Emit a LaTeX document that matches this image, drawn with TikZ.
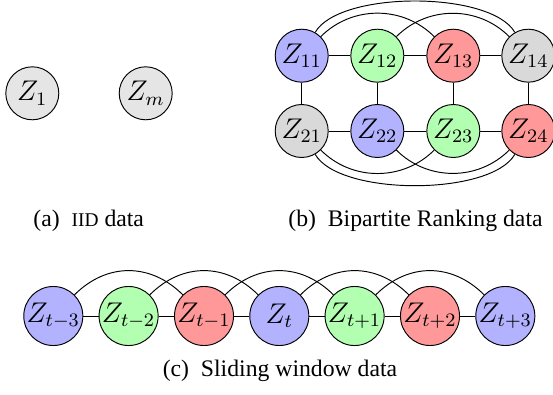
\documentclass[tikz,border=0pt]{standalone}
\usepackage{fontspec}
\setmainfont{Liberation Serif}
\begin{document}
\begin{tikzpicture}[x=0.4217pt,y=0.4217pt,
  vtx/.style={circle,draw,inner sep=0pt,minimum size=22.35pt,font=\fontsize{12}{14}\selectfont},
  svtx/.style={circle,draw,inner sep=0pt,minimum size=24.9pt,font=\fontsize{12}{14}\selectfont},
  cblue/.style={fill=blue!30},
  cgreen/.style={fill=green!30},
  cred/.style={fill=red!40},
  cgray/.style={fill=gray!30},
  clight/.style={fill=gray!20},
  edge/.style={draw=black,line width=0.4pt},
  caption/.style={anchor=base,inner sep=0pt}
]
\useasboundingbox (0,0) rectangle (553,-394);

% (a)
\node[vtx,clight] (z1) at (32.3,-93.3) {$Z_1$};
\node[vtx,clight] (zm) at (145.7,-93.3) {$Z_m$};

% (b)
\node[vtx,cblue]  (z11) at (301.7,-55.7) {$Z_{11}$};
\node[vtx,cgreen] (z12) at (377.3,-55.7) {$Z_{12}$};
\node[vtx,cred]   (z13) at (453.3,-55.7) {$Z_{13}$};
\node[vtx,cgray]  (z14) at (528.3,-55.7) {$Z_{14}$};
\node[vtx,cgray]  (z21) at (301.7,-131)  {$Z_{21}$};
\node[vtx,cblue]  (z22) at (377.3,-131)  {$Z_{22}$};
\node[vtx,cgreen] (z23) at (453.3,-131)  {$Z_{23}$};
\node[vtx,cred]   (z24) at (528.3,-131)  {$Z_{24}$};

\draw[edge] (z11) -- (z12) -- (z13) -- (z14);
\draw[edge] (z21) -- (z22) -- (z23) -- (z24);
\draw[edge] (z11) -- (z21);
\draw[edge] (z12) -- (z22);
\draw[edge] (z13) -- (z23);
\draw[edge] (z14) -- (z24);
\draw[edge] (z11) to[out=60,in=120,looseness=0.62] (z14);
\draw[edge] (z11) to[out=45,in=135] (z13);
\draw[edge] (z12) to[out=45,in=135] (z14);
\draw[edge] (z21) to[out=-60,in=-120,looseness=0.62] (z24);
\draw[edge] (z21) to[out=-45,in=-135] (z23);
\draw[edge] (z22) to[out=-45,in=-135] (z24);

% (c)
\node[svtx,cblue]  (tm3) at (53.3,-316)  {$Z_{t-3}$};
\node[svtx,cgreen] (tm2) at (128.6,-316) {$Z_{t-2}$};
\node[svtx,cred]   (tm1) at (204,-316)   {$Z_{t-1}$};
\node[svtx,cblue]  (t0)  at (279.3,-316) {$Z_{t}$};
\node[svtx,cgreen] (tp1) at (354.6,-316) {$Z_{t+1}$};
\node[svtx,cred]   (tp2) at (430,-316)   {$Z_{t+2}$};
\node[svtx,cblue]  (tp3) at (505.3,-316) {$Z_{t+3}$};

\draw[edge] (tm3) -- (tm2) -- (tm1) -- (t0) -- (tp1) -- (tp2) -- (tp3);
\draw[edge] (tm3) to[out=45,in=135,looseness=1.08] (tm1);
\draw[edge] (tm2) to[out=45,in=135,looseness=1.08] (t0);
\draw[edge] (tm1) to[out=45,in=135,looseness=1.08] (tp1);
\draw[edge] (t0)  to[out=45,in=135,looseness=1.08] (tp2);
\draw[edge] (tp1) to[out=45,in=135,looseness=1.08] (tp3);

% captions
\node[caption] (capa) at (88.7,-226) {(a)\enspace{\fontsize{8.2}{9}\selectfont IID} data};
\node[caption] (capb) at (415.5,-226) {(b)\enspace Bipartite Ranking data};
\node[caption] (capc) at (280,-376.7) {(c)\enspace Sliding window data};
\end{tikzpicture}
\end{document}
